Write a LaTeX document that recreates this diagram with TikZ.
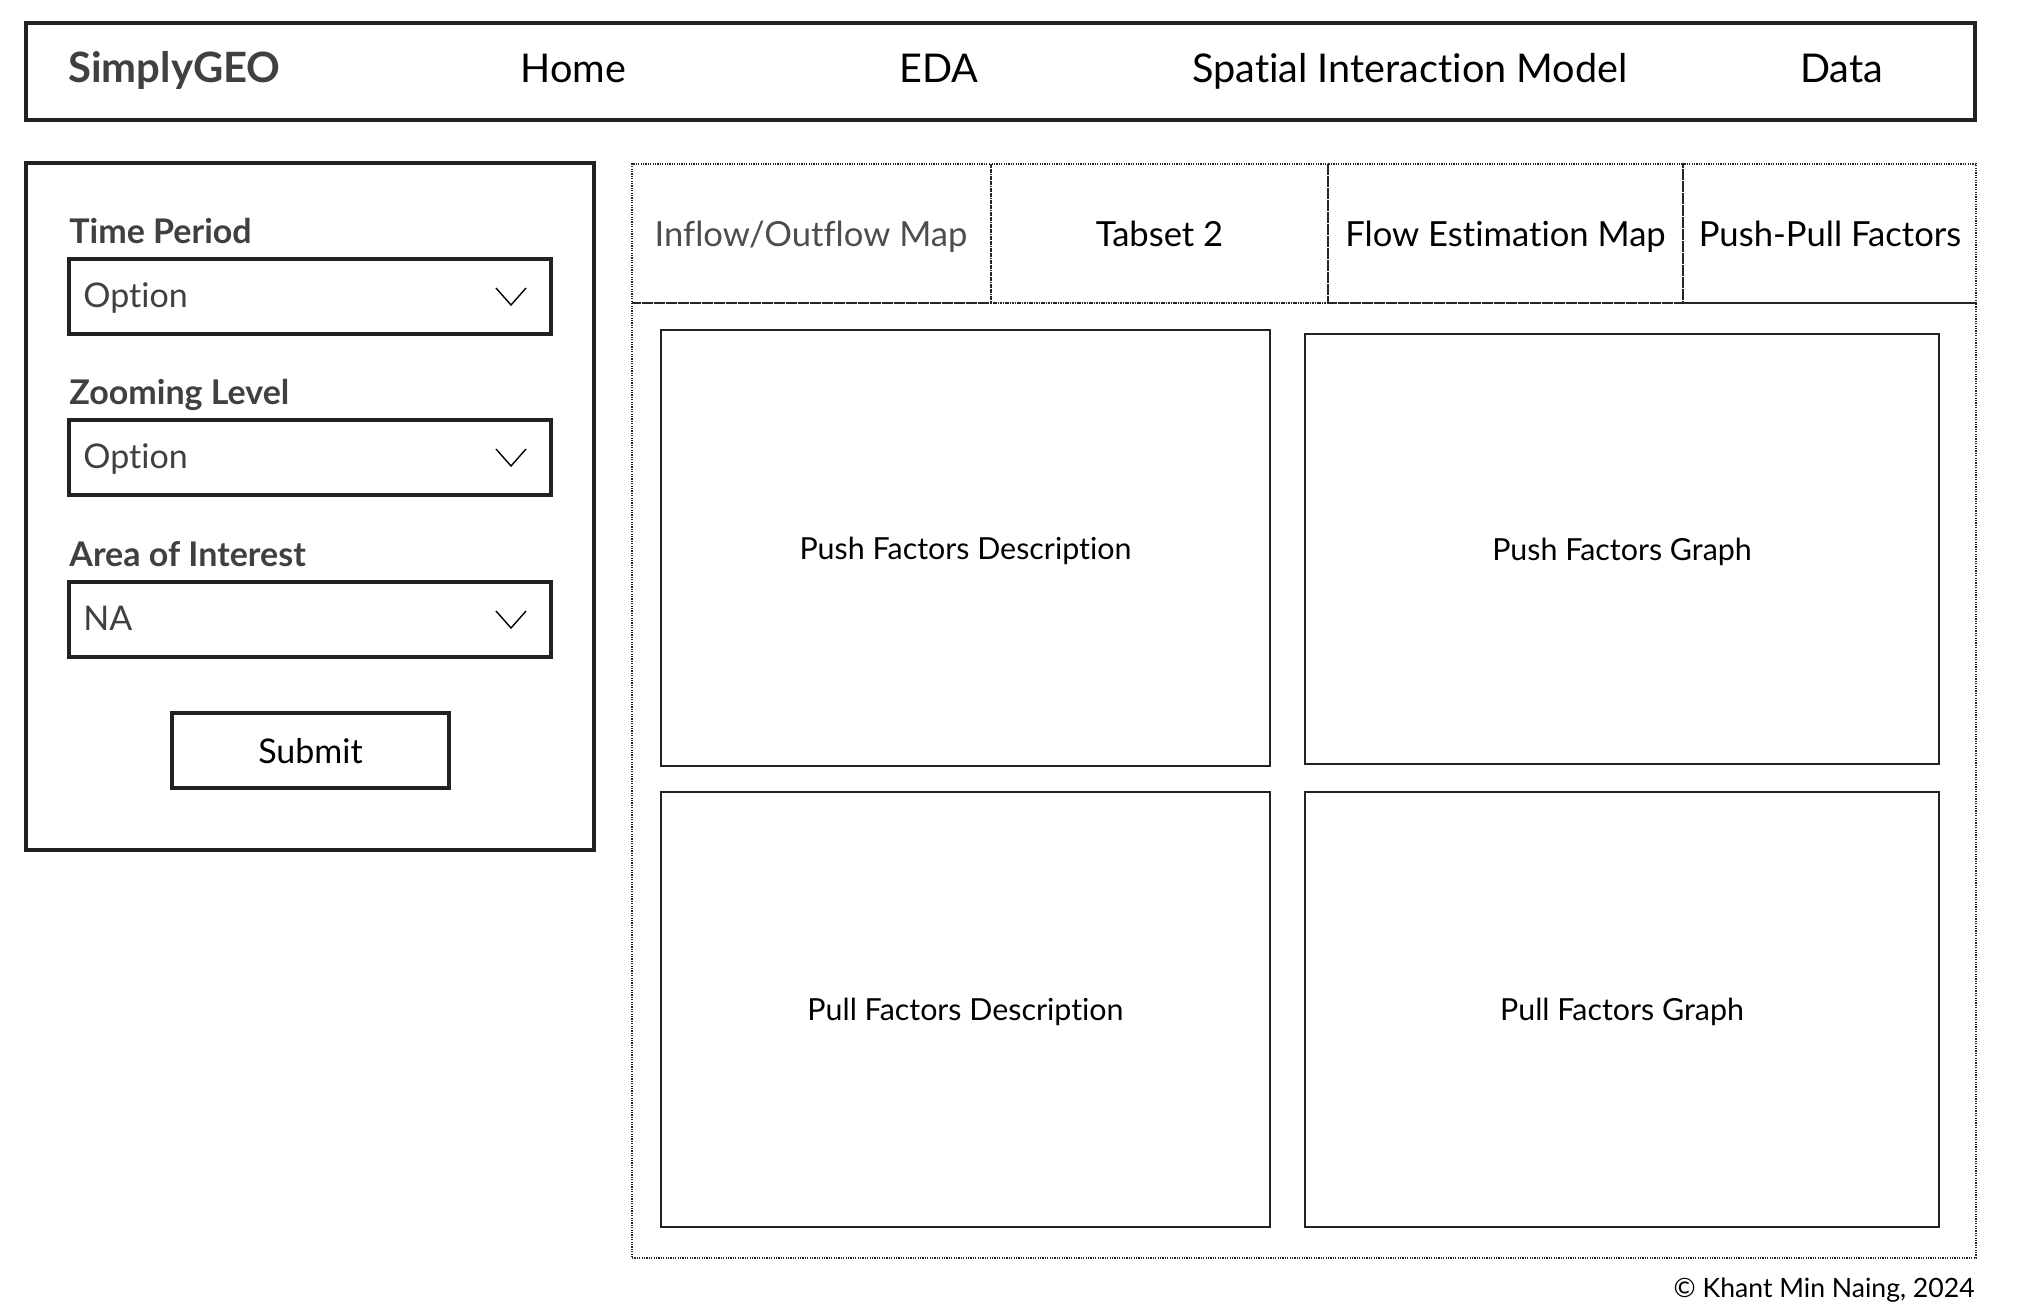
\documentclass[tikz,border=0pt]{standalone}
\usepackage{fontspec}
\setmainfont{Lato}[Ligatures=NoCommon]
\usepackage{xcolor}
\usetikzlibrary{positioning}

\definecolor{ink}{HTML}{222222}
\definecolor{greytext}{HTML}{404040}
\definecolor{tabgrey}{HTML}{4D4D4D}

\begin{document}
\begin{tikzpicture}[x=0.5pt, y=-0.5pt]
  \tikzset{
    frame/.style   = {rectangle, draw=ink, line width=2pt, inner sep=0pt},
    selectbox/.style = {rectangle, draw=ink, line width=1.7pt, inner sep=0pt,
                      minimum width=241pt, minimum height=37.5pt},
    card/.style    = {rectangle, draw=ink, line width=1.35pt, inner sep=0pt,
                      text depth=0pt, font=\fontsize{15.2}{18}\selectfont},
    tabcell/.style = {rectangle, draw=black!85, line width=0.55pt,
                      dash pattern=on 0.6pt off 0.6pt, inner sep=0pt},
    navitem/.style = {inner sep=0pt, anchor=base, font=\fontsize{19.8}{24}\selectfont},
    label/.style   = {inner sep=0pt, anchor=base west, text=greytext,
                      font=\bfseries\fontsize{17}{20}\selectfont},
    choice/.style  = {inner sep=0pt, anchor=base west, text=greytext,
                      font=\fontsize{17}{20}\selectfont},
    tabitem/.style = {inner sep=0pt, anchor=base, font=\fontsize{17.3}{20}\selectfont},
    chevron/.style = {draw=black, line width=0.7pt}
  }
  \useasboundingbox (0,0) rectangle (2028,1314);

% navigation bar
\node[frame, minimum width=974.5pt, minimum height=48.5pt] (nav) at (1000.5,71.5) {};
\node[navitem, anchor=base west, text=greytext, font=\bfseries\fontsize{20.9}{24}\selectfont]
    (brand) at (68,82) {SimplyGEO};
\node[navitem] (home) at (573.5,82) {Home};
\node[navitem] (eda) at (939,82) {EDA};
\node[navitem] (sim) at (1410,82) {Spatial Interaction Model};
\node[navitem] (data) at (1841.5,82) {Data};

% side panel
\node[frame, minimum width=284pt, minimum height=343.5pt] (side) at (310,506.5) {};

\node[label] (timelbl) at (69,243) {Time Period};
\node[selectbox] (timesel) at (310,296.5) {};
\node[choice] (timeopt) at (83,307) {Option};
\draw[chevron] (496,288) -- (511,305) -- (526,288);

\node[label] (zoomlbl) at (69,404) {Zooming Level};
\node[selectbox] (zoomsel) at (310,457.5) {};
\node[choice] (zoomopt) at (83,468) {Option};
\draw[chevron] (496,449) -- (511,466) -- (526,449);

\node[label] (arealbl) at (69,566) {Area of Interest};
\node[selectbox] (areasel) at (310,619.5) {};
\node[choice] (areaopt) at (83,630) {NA};
\draw[chevron] (496,611) -- (511,628) -- (526,611);

\node[selectbox, minimum width=138.5pt, text depth=0pt, font=\fontsize{17}{20}\selectfont]
    (submit) at (310.5,750.5) {Submit};

% tabset
\node[tabcell, minimum width=179.5pt, minimum height=69.5pt] (tab1) at (811.5,233.5) {};
\node[tabcell, minimum width=168.5pt, minimum height=69.5pt] (tab2) at (1159.5,233.5) {};
\node[tabcell, minimum width=177.5pt, minimum height=69.5pt] (tab3) at (1505.5,233.5) {};
\node[tabcell, minimum width=146.5pt, minimum height=69.5pt] (tab4) at (1829.5,233.5) {};
\node[tabcell, minimum width=672pt, minimum height=477.5pt] (tabbody) at (1304,780.5) {};

\node[tabitem, text=tabgrey] (inflow) at (811,246) {Inflow/Outflow Map};
\node[tabitem] (tabset) at (1159.5,246) {Tabset 2};
\node[tabitem] (flow) at (1505.5,246) {Flow Estimation Map};
\node[tabitem] (pushpull) at (1830,246) {Push-Pull Factors};

% cards
\node[card, minimum width=304.5pt, minimum height=218pt] (pushdesc) at (965.5,548)
    {Push Factors Description};
\node[card, minimum width=317pt, minimum height=215pt] (pushgraph) at (1622,549)
    {Push Factors Graph};
\node[card, minimum width=304.5pt, minimum height=217.5pt] (pulldesc) at (965.5,1009.5)
    {Pull Factors Description};
\node[card, minimum width=317pt, minimum height=217.5pt] (pullgraph) at (1622,1009.5)
    {Pull Factors Graph};

\node[inner sep=0pt, anchor=base east, font=\fontsize{13.3}{16}\selectfont]
    (credit) at (1975,1297) {© Khant Min Naing, 2024};
\end{tikzpicture}
\end{document}
